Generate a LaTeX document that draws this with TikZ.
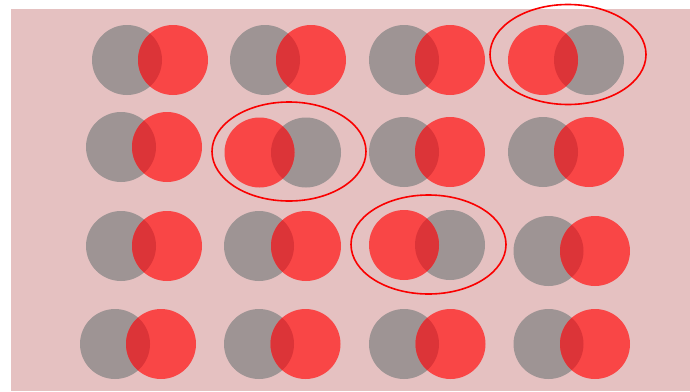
\documentclass[tikz,border=0pt]{standalone}
\definecolor{bgpink}{RGB}{229,193,193}
\definecolor{cgray}{RGB}{158,148,148}
\definecolor{cred}{RGB}{249,70,70}
\definecolor{cdark}{RGB}{220,52,56}
\definecolor{ringred}{RGB}{250,0,0}
\newcommand{\vennpair}[4]{%
  \fill[cgray] (#1,#2) circle[radius=35pt];
  \fill[cred] (#3,#4) circle[radius=35pt];
  \begin{scope}
    \clip (#1,#2) circle[radius=35pt];
    \fill[cdark] (#3,#4) circle[radius=35pt];
  \end{scope}}
\tikzset{ring/.style={draw=ringred, line width=1.6pt}}
\begin{document}
\begin{tikzpicture}[x=1pt,y=-1pt]
\useasboundingbox (0,0) rectangle (690,391);
\fill[white] (0,0) rectangle (690,391);
\fill[bgpink] (11,9) rectangle (690,391);
% row 1
\vennpair{127}{60}{173}{60}
\vennpair{265}{60}{311}{60}
\vennpair{404}{60}{450}{60}
\vennpair{589}{60}{543}{60}
% row 2
\vennpair{121}{147}{167}{147}
\vennpair{306}{152.5}{259.5}{152.5}
\vennpair{404}{152}{450}{152}
\vennpair{543}{152}{589}{152}
% row 3
\vennpair{121}{246}{167}{246}
\vennpair{259}{246}{306}{246}
\vennpair{450}{245}{404}{245}
\vennpair{548.5}{251}{595}{251}
% row 4
\vennpair{115}{344}{161}{344}
\vennpair{259}{344}{305.5}{344}
\vennpair{404}{344}{450.5}{344}
\vennpair{548.5}{344}{595}{344}
% rings
\draw[ring] (568,54.5) ellipse[x radius=78pt, y radius=50pt];
\draw[ring] (289,151.5) ellipse[x radius=77pt, y radius=49.5pt];
\draw[ring] (428.5,244.5) ellipse[x radius=77.5pt, y radius=49.5pt];
\end{tikzpicture}
\end{document}
